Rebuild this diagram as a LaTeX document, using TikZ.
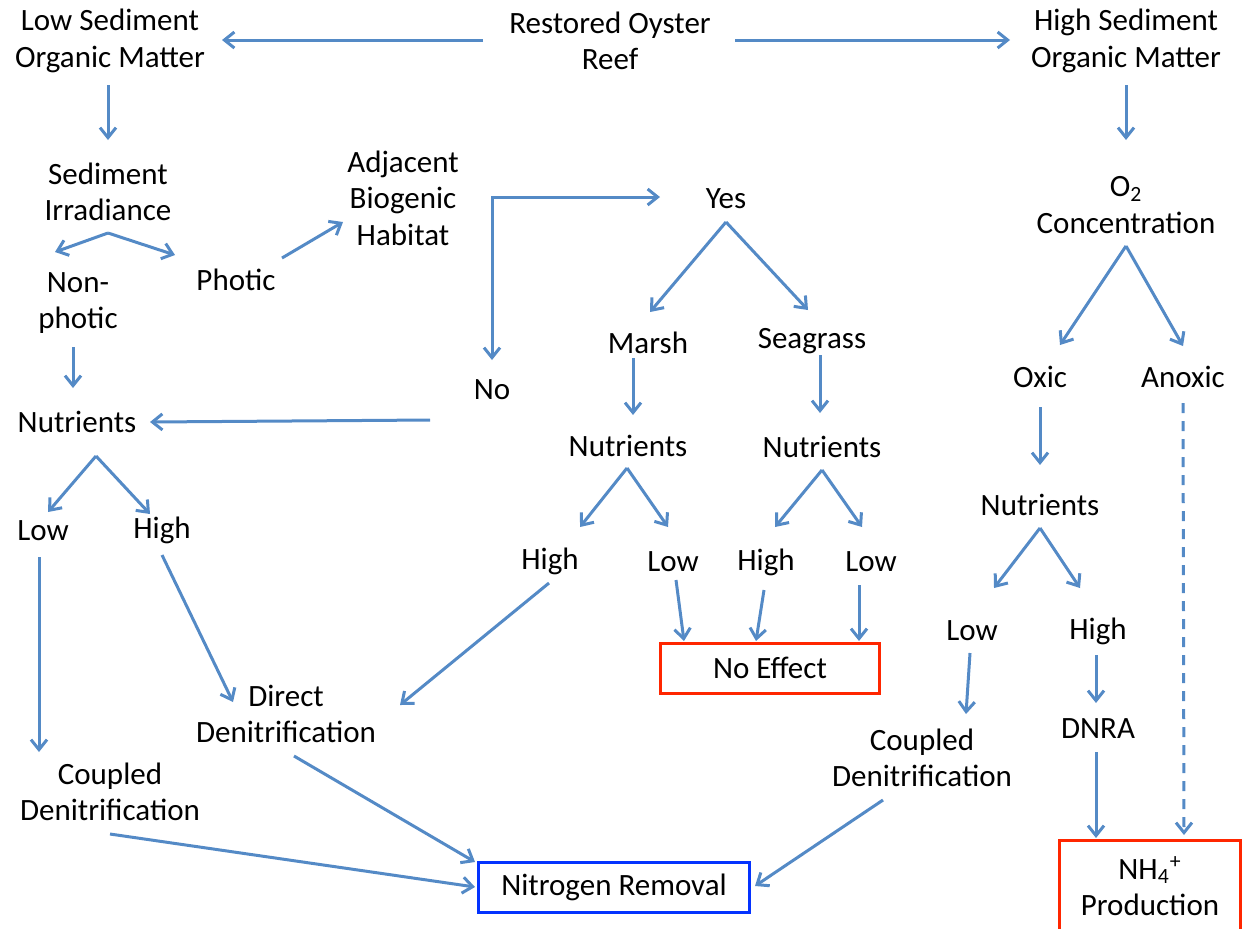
\documentclass[tikz,border=0pt]{standalone}
\usepackage{fontspec}
\setmainfont{Carlito}
\usetikzlibrary{arrows.meta}
\definecolor{arrowblue}{RGB}{84,138,198}
\definecolor{boxred}{RGB}{255,38,0}
\definecolor{boxblue}{RGB}{4,51,255}
\tikzset{
    lbl/.style={
      align=center,
           inner sep=0pt,
           font=\fontsize{15.5}{18.2}\selectfont,
           },
}
\tikzset{
    outcome/.style={
      rectangle,
           draw=boxred, line width=1.5pt,
           inner sep=0pt,
           align=center,
           font=\fontsize{15.5}{18.2}\selectfont,
           },
}
\tikzset{
    removal/.style={
      rectangle,
           draw=boxblue, line width=1.5pt,
           inner sep=0pt,
           align=center,
           font=\fontsize{15.5}{18.2}\selectfont,
           },
}
\tikzset{
    link/.style={
      ->,
           draw=arrowblue, line width=1.5pt,
           },
}
\begin{document}
\begin{tikzpicture}[x=0.5pt,y=-0.5pt,>={Straight Barb[length=5pt,width=8pt]}]
\useasboundingbox (0,0) rectangle (1246,928);

\node[lbl](reef) at (610,41){Restored Oyster\\Reef};
\node[lbl](lsom) at (110,41){Low Sediment\\Organic Matter};
\node[lbl](hsom) at (1126,41){High Sediment\\Organic Matter};

\path ([shift={(-127,-1)}]reef.center) edge[link]([shift={(112,-1)}]lsom.center);
\path ([shift={(125,-1)}]reef.center) edge[link]([shift={(-116,-1)}]hsom.center);

% low organic matter side
\node[lbl](sirr) at (108,192){Sediment\\Irradiance};
\node[lbl](nonph) at (78,303){Non-\\photic};
\node[lbl](photic) at (236,280){Photic};
\node[lbl](abh) at (403,198){Adjacent\\Biogenic\\Habitat};
\node[lbl](nutl) at (77,422){Nutrients};

\path ([shift={(-2,44)}]lsom.center) edge[link]([shift={(0,-52)}]sirr.center);
\path ([shift={(0,41)}]sirr.center) edge[link]([shift={(-23,-51)}]nonph.center);
\path ([shift={(0,41)}]sirr.center) edge[link]([shift={(-61,-25)}]photic.center);
\path ([shift={(46,-22)}]photic.center) edge[link]([shift={(-60,24)}]abh.center);
\path ([shift={(-5,44)}]nonph.center) edge[link]([shift={(-4,-34)}]nutl.center);

\node[lbl](lowl) at (43,531){Low};
\node[lbl](highl) at (162,530){High};
\node[lbl](cdl) at (110,792){Coupled\\Denitrification};
\node[lbl](ddn) at (286,714){Direct\\Denitrification};

\path ([shift={(19,34)}]nutl.center) edge[link]([shift={(5,-19)}]lowl.center);
\path ([shift={(19,34)}]nutl.center) edge[link]([shift={(-12,-16)}]highl.center);
\path ([shift={(-4,26)}]lowl.center) edge[link]([shift={(-71,-40)}]cdl.center);
\path ([shift={(0,25)}]highl.center) edge[link]([shift={(-53,-12)}]ddn.center);

% adjacent habitat
\node[lbl](no) at (492,390){No};
\node[lbl](yes) at (726,199){Yes};

\draw[link,<->] ([shift={(0,-30)}]no.center) |- ([shift={(-66,-2)}]yes.center);
\path ([shift={(-62,30)}]no.center) edge[link]([shift={(73,0)}]nutl.center);

\node[lbl](marsh) at (648,343){Marsh};
\node[lbl](seag) at (812,341){Seagrass};
\node[lbl](nutm) at (628,446){Nutrients};
\node[lbl](nuts) at (822,447){Nutrients};

\path ([shift={(0,23)}]yes.center) edge[link]([shift={(2,-31)}]marsh.center);
\path ([shift={(0,23)}]yes.center) edge[link]([shift={(-4,-31)}]seag.center);
\path ([shift={(-15,15)}]marsh.center) edge[link]([shift={(5,-31)}]nutm.center);
\path ([shift={(8,14)}]seag.center) edge[link]([shift={(-2,-34)}]nuts.center);

\node[lbl](highm) at (550,561){High};
\node[lbl](lowm) at (673,562){Low};
\node[lbl](highs) at (766,562){High};
\node[lbl](lows) at (871,562){Low};

\path ([shift={(-1,22)}]nutm.center) edge[link]([shift={(30,-34)}]highm.center);
\path ([shift={(-1,22)}]nutm.center) edge[link]([shift={(-5,-35)}]lowm.center);
\path ([shift={(0,23)}]nuts.center) edge[link]([shift={(9,-35)}]highs.center);
\path ([shift={(0,23)}]nuts.center) edge[link]([shift={(-9,-35)}]lows.center);

\node[outcome,minimum width=109.5pt,minimum height=25pt](noeff) at (770,668){No Effect};

\path ([shift={(3,18)}]lowm.center) edge[link]([shift={(-86,-27)}]noeff.center);
\path ([shift={(-2,28)}]highs.center) edge[link]([shift={(-14,-27)}]noeff.center);
\path ([shift={(-12,23)}]lows.center) edge[link]([shift={(89,-27)}]noeff.center);
\path ([shift={(-1,22)}]highm.center) edge[link]([shift={(114,-9)}]ddn.center);

% high organic matter side
\node[lbl](o2) at (1126,205){O\textsubscript{2}\\Concentration};
\node[lbl](oxic) at (1040,377){Oxic};
\node[lbl](anox) at (1183,377){Anoxic};
\node[lbl](nutr) at (1040,505){Nutrients};
\node[lbl](lowr) at (972,631){Low};
\node[lbl](highr) at (1098,631){High};
\node[lbl](cdr) at (922,758){Coupled\\Denitrification};
\node[lbl](dnra) at (1098,729){DNRA};
\node[outcome,minimum width=90.5pt,minimum height=60pt](nhf) at (1150,900){\raisebox{5pt}[\height][\depth]{\begin{tabular}{@{}c@{}}NH\textsubscript{4}\textsuperscript{+}\\Production\end{tabular}}};

\path ([shift={(0,44)}]hsom.center) edge[link]([shift={(0,-65)}]o2.center);
\path ([shift={(0,41)}]o2.center) edge[link]([shift={(20,-32)}]oxic.center);
\path ([shift={(0,41)}]o2.center) edge[link]([shift={(0,-31)}]anox.center);
\path ([shift={(0,30)}]oxic.center) edge[link]([shift={(0,-40)}]nutr.center);
\path ([shift={(0,23)}]nutr.center) edge[link]([shift={(22,-43)}]lowr.center);
\path ([shift={(0,23)}]nutr.center) edge[link]([shift={(-18,-43)}]highr.center);
\path ([shift={(-2,22)}]lowr.center) edge[link]([shift={(44,-44)}]cdr.center);
\path ([shift={(-2,24)}]highr.center) edge[link]([shift={(-2,-26)}]dnra.center);
\path ([shift={(-2,23)}]dnra.center) edge[link]([shift={(-54,-62)}]nhf.center);
\path ([shift={(0,26)}]anox.center) edge[link,dash pattern=on 5pt off 4pt]([shift={(34,-65)}]nhf.center);

% nitrogen removal
\node[removal,minimum width=135.5pt,minimum height=25pt](nrem) at (614,887){Nitrogen Removal};

\path ([shift={(8,42)}]ddn.center) edge[link]([shift={(-139,-25)}]nrem.center);
\path ([shift={(0,42)}]cdl.center) edge[link]([shift={(-139,0)}]nrem.center);
\path ([shift={(-39,42)}]cdr.center) edge[link]([shift={(141,-1)}]nrem.center);

\end{tikzpicture}
\end{document}
